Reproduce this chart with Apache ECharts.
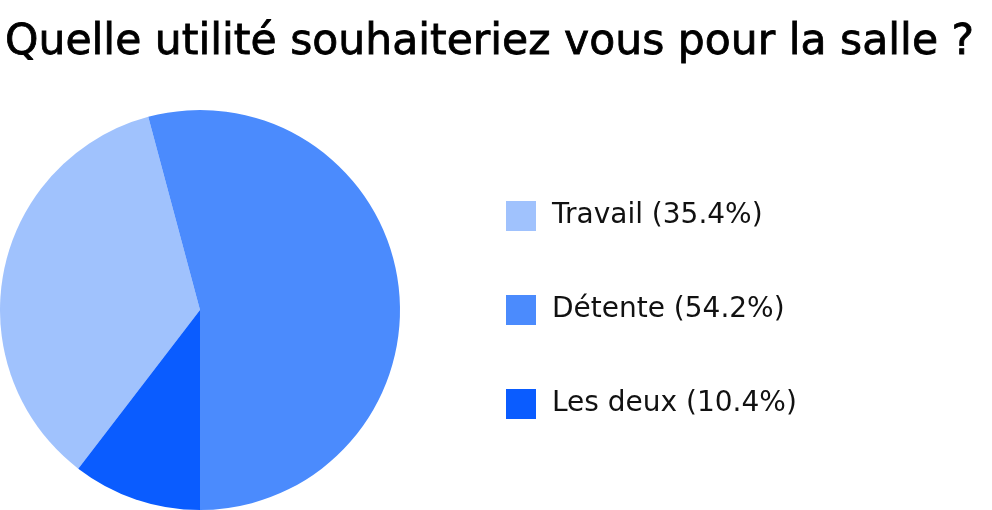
<!DOCTYPE html>
<html>
<head>
<meta charset="utf-8">
<script src="https://cdn.jsdelivr.net/npm/echarts@6/dist/echarts.min.js"></script>
<style>
  html, body { margin: 0; padding: 0; background: #fff; }
  #chart { width: 992px; height: 510px; }
</style>
</head>
<body>
<div id="chart"></div>
<script>
// Responses (counts) per answer
const categories = ["Travail", "Détente", "Les deux"];
const counts = [17, 26, 5];
const colors = ["#a0c2fd", "#4b8bfd", "#0a5cff"];

const total = counts.reduce((a, b) => a + b, 0);
const pctByName = {};
categories.forEach((c, i) => {
  pctByName[c] = ((counts[i] / total) * 100).toFixed(1);
});

const chart = echarts.init(document.getElementById("chart"), null, { renderer: "canvas" });

chart.setOption({
  backgroundColor: "#fff",
  animation: false,
  title: {
    text: "Quelle utilité souhaiteriez vous pour la salle ?",
    left: 0,
    top: 16,
    textStyle: {
      fontFamily: "DejaVu Sans",
      fontSize: 42.5,
      fontWeight: "normal",
      color: "#000",
      textBorderColor: "#000",
      textBorderWidth: 0.8,
    },
  },
  legend: {
    orient: "vertical",
    left: 501,
    top: 196,
    itemWidth: 30,
    itemHeight: 30,
    itemGap: 64,
    icon: "rect",
    data: categories,
    formatter: (name) => `${name} (${pctByName[name]}%)`,
    textStyle: {
      fontFamily: "DejaVu Sans",
      fontSize: 28,
      color: "#111",
      padding: [0, 0, 0, 11],
    },
  },
  series: [
    {
      type: "pie",
      center: [200, 310],
      radius: [0, 200],
      startAngle: 232.5,
      clockwise: true,
      label: { show: false },
      labelLine: { show: false },
      itemStyle: { borderWidth: 0 },
      data: categories.map((name, i) => ({
        name,
        value: counts[i],
        itemStyle: { color: colors[i] },
      })),
    },
  ],
});
</script>
</body>
</html>
